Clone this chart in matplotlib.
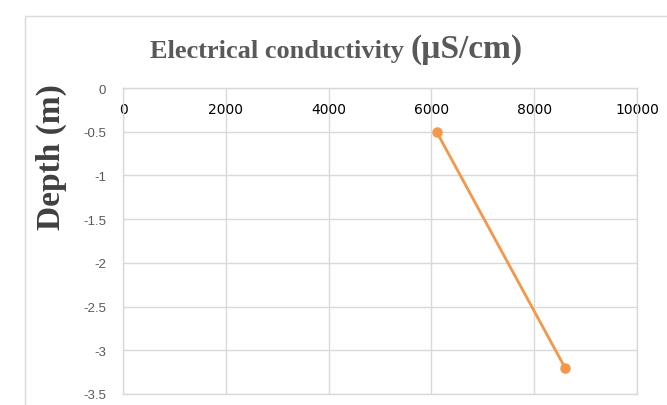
import matplotlib
matplotlib.use("Agg")
import matplotlib.pyplot as plt
from matplotlib.patches import Rectangle

# Conductivity profile
conductivity = [6100, 8600]      # µS/cm
depth = [-0.5, -3.2]             # m

x_ticks = [0, 2000, 4000, 6000, 8000, 10000]
y_ticks = [0, -0.5, -1, -1.5, -2, -2.5, -3, -3.5]
y_tick_labels = ["0", "-0.5", "-1", "-1.5", "-2", "-2.5", "-3", "-3.5"]

W, H = 667, 406
fig = plt.figure(figsize=(W / 100, H / 100), dpi=100)
fig.patch.set_facecolor("white")

# chart frame
fig.patches.append(Rectangle((25 / W, -0.1), 1.0, 1 - 17 / H + 0.1,
                             transform=fig.transFigure, fill=False,
                             edgecolor="#d9d9d9", linewidth=1.0))

ax = fig.add_axes([123 / W, 1 - 395 / H, (637 - 123) / W, (395 - 89) / H])
ax.plot(conductivity, depth, color="#f79646", linewidth=2.0,
        marker="o", markersize=6.5, solid_capstyle="round")

ax.set_xlim(0, 10000)
ax.set_ylim(-3.5, 0)
ax.set_xticks(x_ticks)
ax.set_yticks(y_ticks)
ax.set_yticklabels(y_tick_labels)

tick_family = ["Liberation Sans", "DejaVu Sans"]
for lbl in ax.get_xticklabels() + ax.get_yticklabels():
    lbl.set_fontfamily(tick_family)
    lbl.set_fontsize(9.5)
    lbl.set_color("#595959")

ax.xaxis.tick_top()
ax.tick_params(axis="x", length=0, pad=-20)
ax.tick_params(axis="y", length=0, pad=12)
ax.grid(True, color="#d9d9d9", linewidth=1.0)
ax.set_axisbelow(True)
for s in ax.spines.values():
    s.set_color("#d9d9d9")
    s.set_linewidth(1.0)

# title in two parts
serif = ["Liberation Serif", "DejaVu Serif"]
fig.text(411 / W, 1 - 58 / H, "Electrical conductivity ", ha="right", va="baseline",
         fontsize=19, fontweight="bold", family=serif, color="#595959")
fig.text(411 / W, 1 - 58 / H, "(µS/cm)", ha="left", va="baseline",
         fontsize=24, fontweight="bold", family=serif, color="#595959")

fig.text(51 / W, 1 - 157 / H, "Depth (m)", rotation=90, ha="center", va="center",
         fontsize=24, fontweight="bold", family=serif, color="#404040")

fig.savefig("out.png", dpi=100)
